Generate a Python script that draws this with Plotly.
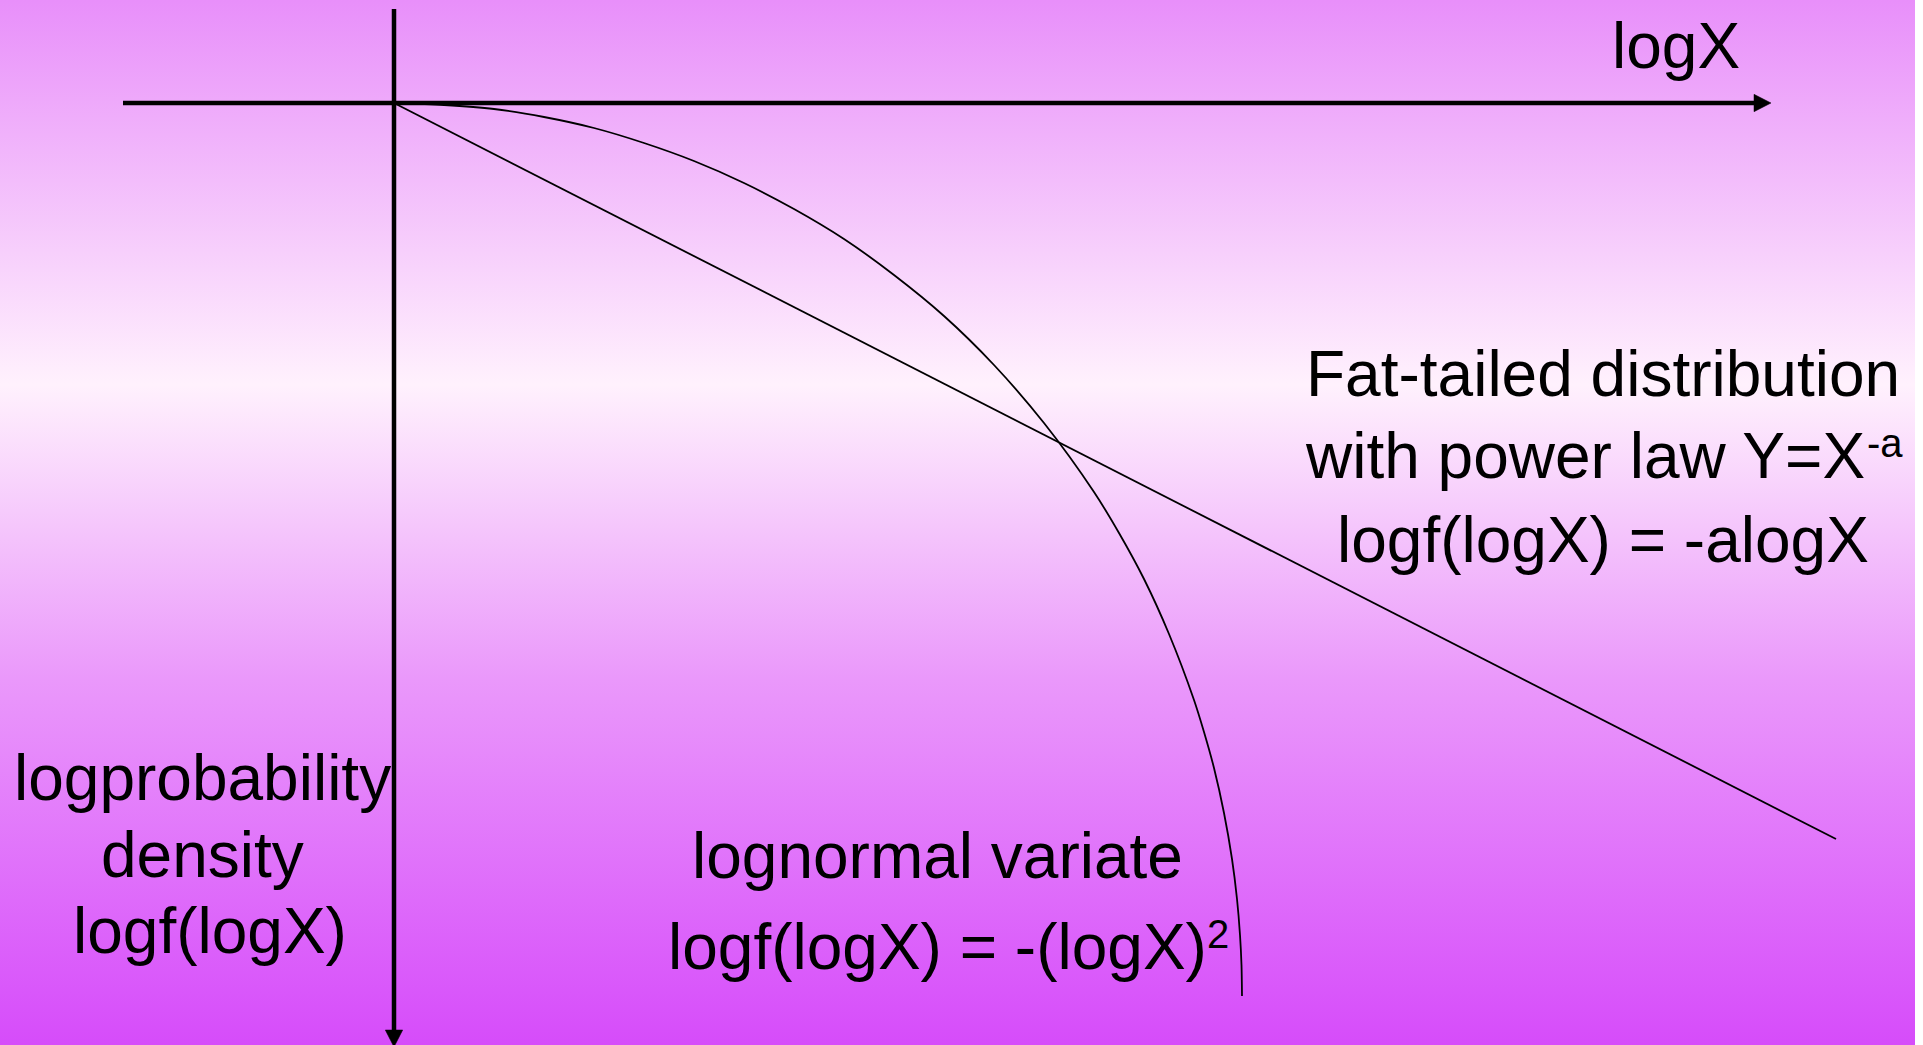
import plotly.graph_objects as go

# ---------------- data (arbitrary units, origin at the axis crossing, logf upward) -------------
power_law_logx = [0.0, 14.42]
power_law_logf = [0.0, -7.36]

lognormal_logx = [0.0, 0.5, 1.0, 1.5, 2.0, 2.5, 3.0, 3.5, 4.0, 4.5, 5.0, 5.5, 6.0, 6.5, 7.0,
                  7.25, 7.5, 7.75, 8.0, 8.1, 8.2, 8.3, 8.38, 8.43, 8.46, 8.475, 8.48]
lognormal_logf = [0.0, -0.02, -0.06, -0.14, -0.25, -0.40, -0.58, -0.80, -1.06, -1.36, -1.72,
                  -2.13, -2.62, -3.20, -3.89, -4.30, -4.76, -5.31, -5.97, -6.29, -6.65, -7.10,
                  -7.56, -7.96, -8.32, -8.62, -8.93]

# axis extents (horizontal logX axis, vertical logf axis pointing down)
x_axis_from, x_axis_to = -2.71, 13.77
y_axis_from, y_axis_to = 0.94, -9.44

# text labels
label_logx = "logX"
label_fat = ["Fat-tailed distribution", "with power law Y=X", "logf(logX) = -alogX"]
label_fat_sup = "-a"
label_left = ["logprobability", "density", "logf(logX)"]
label_lognormal = ["lognormal variate", "logf(logX) = -(logX)"]
label_lognormal_sup = "2"

# ---------------- layout geometry ----------------
W, H = 1923, 1045
X_RANGE = [-3.94, 15.29]
Y_RANGE = [-9.42, 1.03]
BG_RIGHT = 15.21
HEAD_LEN, HEAD_HALF = 0.17, 0.087
AXIS_W = 4.5
FAMILY = "Liberation Sans, Arial, sans-serif"
FONT = dict(family=FAMILY, size=64, color="black")
SUP_FONT = dict(family=FAMILY, size=40, color="black")

fig = go.Figure()

# gradient background
fig.add_trace(go.Scatter(
    x=[X_RANGE[0], BG_RIGHT, BG_RIGHT, X_RANGE[0], X_RANGE[0]],
    y=[Y_RANGE[0], Y_RANGE[0], Y_RANGE[1], Y_RANGE[1], Y_RANGE[0]],
    mode="none", fill="toself", hoverinfo="skip", showlegend=False,
    fillgradient=dict(type="vertical", colorscale=[
        [0.0, "rgb(214,76,250)"],
        [0.35, "rgb(234,152,251)"],
        [0.632, "rgb(255,241,253)"],
        [1.0, "rgb(232,143,250)"],
    ]),
))

# curves
fig.add_trace(go.Scatter(x=power_law_logx, y=power_law_logf, mode="lines",
                         line=dict(color="black", width=1.8), showlegend=False, hoverinfo="skip"))
fig.add_trace(go.Scatter(x=lognormal_logx, y=lognormal_logf, mode="lines",
                         line=dict(color="black", width=1.8, shape="spline", smoothing=0.8),
                         showlegend=False, hoverinfo="skip"))

shapes = [
    # horizontal axis
    dict(type="line", xref="x", yref="y", x0=x_axis_from, y0=0, x1=x_axis_to - HEAD_LEN + 0.02, y1=0,
         line=dict(color="black", width=AXIS_W)),
    dict(type="path", xref="x", yref="y",
         path=f"M {x_axis_to} 0 L {x_axis_to - HEAD_LEN} {HEAD_HALF} L {x_axis_to - HEAD_LEN} {-HEAD_HALF} Z",
         fillcolor="black", line=dict(color="black", width=0.5)),
    # vertical axis
    dict(type="line", xref="x", yref="y", x0=0, y0=y_axis_from, x1=0, y1=y_axis_to + HEAD_LEN - 0.02,
         line=dict(color="black", width=AXIS_W)),
    dict(type="path", xref="x", yref="y",
         path=f"M 0 {y_axis_to} L {-HEAD_HALF} {y_axis_to + HEAD_LEN} L {HEAD_HALF} {y_axis_to + HEAD_LEN} Z",
         fillcolor="black", line=dict(color="black", width=0.5)),
]

annotations = []
def add_text(text, x, y, anchor="center", font=FONT):
    annotations.append(dict(text=text, x=x, y=y, xref="x", yref="y", showarrow=False,
                            xanchor=anchor, yanchor="middle", font=font,
                            borderpad=0, borderwidth=0))

add_text(label_logx, 12.82, 0.57)
add_text(label_fat[0], 12.09, -2.71)
add_text(label_fat[1], 14.71, -3.53, anchor="right")
add_text(label_fat_sup, 14.73, -3.40, anchor="left", font=SUP_FONT)
add_text(label_fat[2], 12.09, -4.37)
for t, x, y in zip(label_left, [-1.92, -1.92, -1.84], [-6.75, -7.52, -8.28]):
    add_text(t, x, y)
add_text(label_lognormal[0], 5.43, -7.53)
add_text(label_lognormal[1], 8.13, -8.44, anchor="right")
add_text(label_lognormal_sup, 8.13, -8.31, anchor="left", font=SUP_FONT)

fig.update_layout(
    width=W, height=H,
    margin=dict(l=0, r=0, t=0, b=0, pad=0),
    paper_bgcolor="white", plot_bgcolor="rgba(0,0,0,0)",
    xaxis=dict(range=X_RANGE, visible=False, fixedrange=True),
    yaxis=dict(range=Y_RANGE, visible=False, fixedrange=True),
    shapes=shapes, annotations=annotations, showlegend=False,
)

fig.write_html("out.html", config=dict(displayModeBar=False),
               post_script="document.body.style.margin='0';document.body.style.overflow='hidden';")
